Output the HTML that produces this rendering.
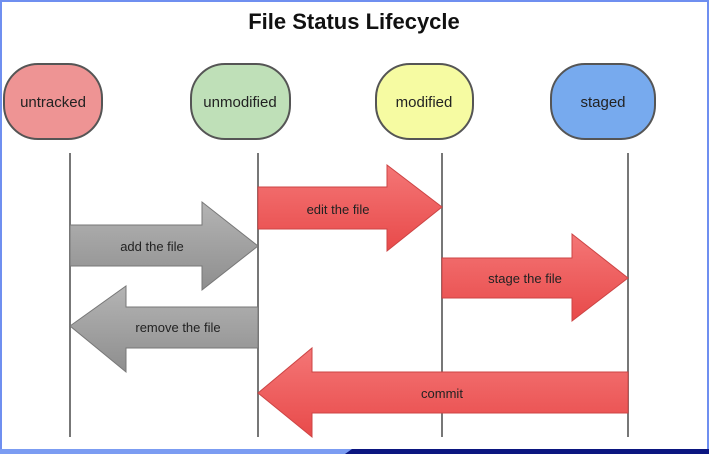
<!DOCTYPE html>
<html><head><style>
body{margin:0;width:709px;height:454px;overflow:hidden;background:#fff;font-family:"Liberation Sans",sans-serif;}
</style></head><body>
<svg width="709" height="454" xmlns="http://www.w3.org/2000/svg" font-family="Liberation Sans, sans-serif">
<defs>
<linearGradient id="r" x1="0" y1="0" x2="0" y2="1"><stop offset="0" stop-color="#f47676"/><stop offset="1" stop-color="#e84a4a"/></linearGradient>
<linearGradient id="g" x1="0" y1="0" x2="0" y2="1"><stop offset="0" stop-color="#b4b4b4"/><stop offset="1" stop-color="#8e8e8e"/></linearGradient>
</defs>
<rect x="0" y="0" width="709" height="454" fill="#fff"/>
<rect x="0" y="0" width="2" height="454" fill="#6f8ff0"/>
<rect x="707" y="0" width="2" height="454" fill="#6f8ff0"/>
<rect x="0" y="0" width="709" height="2" fill="#6f8ff0"/>
<rect x="0" y="449" width="709" height="5" fill="#7b9cf2"/>
<polygon points="352,449 709,449 709,454 345,454" fill="#0b1680"/>
<text x="354" y="29" text-anchor="middle" font-size="22" font-weight="bold" fill="#111">File Status Lifecycle</text>
<g stroke="#555" stroke-width="2">
<rect x="4" y="64" width="98" height="75" rx="34" fill="#ee9494"/>
<rect x="191" y="64" width="99" height="75" rx="34" fill="#bfe0b8"/>
<rect x="376" y="64" width="97" height="75" rx="34" fill="#f6fba2"/>
<rect x="551" y="64" width="104" height="75" rx="34" fill="#77aaee"/>
</g>
<g font-size="15" text-anchor="middle" fill="#222">
<text x="53" y="107">untracked</text><text x="240" y="107">unmodified</text>
<text x="424" y="107">modified</text><text x="603" y="107">staged</text>
</g>
<g stroke="#777" stroke-width="2">
<line x1="70" y1="153" x2="70" y2="437"/><line x1="258" y1="153" x2="258" y2="437"/>
<line x1="442" y1="153" x2="442" y2="437"/><line x1="628" y1="153" x2="628" y2="437"/>
</g>
<g stroke-width="1">
<polygon points="258,187 387,187 387,165 442,207 387,251 387,229 258,229" fill="url(#r)" stroke="#c44"/>
<polygon points="70,225 202,225 202,202 258,246 202,290 202,266 70,266" fill="url(#g)" stroke="#777"/>
<polygon points="442,258 572,258 572,234 628,278 572,321 572,298 442,298" fill="url(#r)" stroke="#c44"/>
<polygon points="70,326 126,286 126,307 258,307 258,348 126,348 126,372" fill="url(#g)" stroke="#777"/>
<polygon points="258,393 312,348 312,372 628,372 628,413 312,413 312,437" fill="url(#r)" stroke="#c44"/>
</g>
<g font-size="13" text-anchor="middle" fill="#222">
<text x="338" y="214">edit the file</text>
<text x="152" y="251">add the file</text>
<text x="525" y="283">stage the file</text>
<text x="178" y="332">remove the file</text>
<text x="442" y="398">commit</text>
</g>
</svg>
</body></html>
